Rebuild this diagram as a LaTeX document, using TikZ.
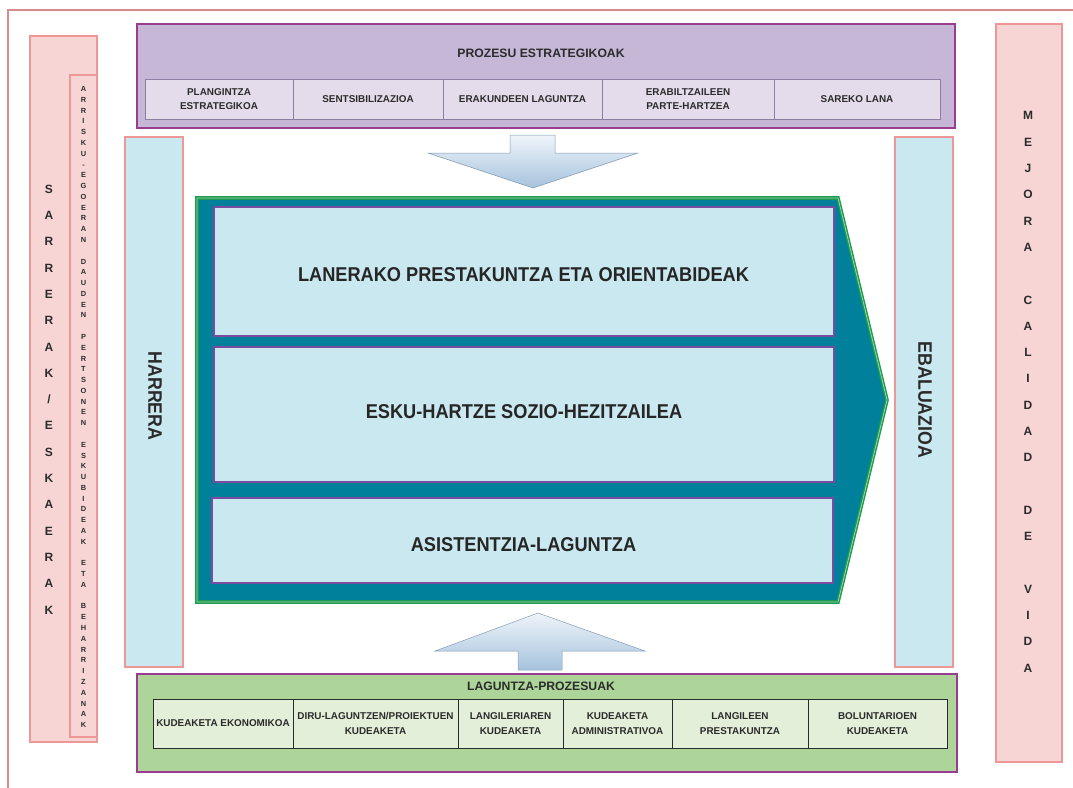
\documentclass[tikz,border=0pt]{standalone}
\usepackage{fontspec}
\setmainfont{Liberation Sans}
\newfontfamily\narrowsans[FakeStretch=0.91]{Liberation Sans}
\usetikzlibrary{positioning}

\definecolor{framerose}{HTML}{D98A8C}
\definecolor{pinkfill}{HTML}{F7D5D5}
\definecolor{pinkline}{HTML}{EF9696}
\definecolor{lilacfill}{HTML}{C6B7D7}
\definecolor{lilacline}{HTML}{9A3C92}
\definecolor{lilaccell}{HTML}{E4DCEB}
\definecolor{lilaccellline}{HTML}{8D7EA3}
\definecolor{paleblue}{HTML}{CAE8EF}
\definecolor{chevteal}{HTML}{00809A}
\definecolor{chevgreen}{HTML}{1F9B4F}
\definecolor{boxpurple}{HTML}{7A4C9F}
\definecolor{leaffill}{HTML}{ADD59A}
\definecolor{leafcell}{HTML}{E3EFD9}
\definecolor{arrowblue}{HTML}{A6C3DD}
\definecolor{arrowlight}{HTML}{EEF4FA}
\definecolor{inkgray}{HTML}{2B2B2B}

\begin{document}
\begin{tikzpicture}[x=1pt, y=-1pt,
  every node/.style={text=inkgray, inner sep=0pt},
  pinkbar/.style={shape=rectangle, draw=pinkline, fill=pinkfill, line width=1.6pt},
  bluebar/.style={shape=rectangle, draw=pinkline, fill=paleblue, line width=1.4pt},
  lilacbox/.style={shape=rectangle, draw=lilacline, fill=lilacfill, line width=1.4pt},
  lilaccellbox/.style={shape=rectangle, draw=lilaccellline, fill=lilaccell, line width=1pt, minimum height=40pt, align=center, font=\bfseries\fontsize{9.9}{14}\selectfont},
  leafbox/.style={shape=rectangle, draw=lilacline, fill=leaffill, line width=1.4pt},
  leafcellbox/.style={shape=rectangle, draw=inkgray, fill=leafcell, line width=1pt, minimum height=49pt, align=center, font=\bfseries\fontsize{9.9}{14.5}\selectfont},
  flowbox/.style={shape=rectangle, draw=boxpurple, fill=paleblue, line width=1.2pt},
  flowtext/.style={text=black!85, font=\narrowsans\bfseries\fontsize{20}{22}\selectfont},
  titletext/.style={font=\bfseries\fontsize{12.2}{14}\selectfont},
  sidetext/.style={rotate=-90, font=\narrowsans\bfseries\fontsize{19.5}{22}\selectfont},
  lettercol/.style={align=center, font=\bfseries\fontsize{12}{26.3}\selectfont},
  blockarrow/.style={top color=arrowlight, bottom color=arrowblue, draw=arrowblue!80!black, line width=0.5pt}]
\useasboundingbox (0,0) rectangle (1073,787);

\draw[framerose, line width=2.2pt] (1090,10) -- (8,10) -- (8,800);

\node[pinkbar, minimum width=67pt, minimum height=706pt] (sarrerabar) at (63.5,389) {};
\node[pinkbar, minimum width=27pt, minimum height=662pt] (arriskubar) at (83.5,406) {};
\node[pinkbar, minimum width=66pt, minimum height=738pt] (mejorabar) at (1029,393) {};
\node[lettercol] (sarrerak) at (49,399.5) {S\\A\\R\\R\\E\\R\\A\\K\\/\\E\\S\\K\\A\\E\\R\\A\\K};
\node[lettercol, font=\bfseries\fontsize{7.4}{10.78}\selectfont] (arrisku) at (83.5,407) {A\\R\\R\\I\\S\\K\\U\\-\\E\\G\\O\\E\\R\\A\\N\\\mbox{}\\D\\A\\U\\D\\E\\N\\\mbox{}\\P\\E\\R\\T\\S\\O\\N\\E\\N\\\mbox{}\\E\\S\\K\\U\\B\\I\\D\\E\\A\\K\\\mbox{}\\E\\T\\A\\\mbox{}\\B\\E\\H\\A\\R\\R\\I\\Z\\A\\N\\A\\K};
\node[lettercol] (mejora) at (1028,392) {M\\E\\J\\O\\R\\A\\\mbox{}\\C\\A\\L\\I\\D\\A\\D\\\mbox{}\\D\\E\\\mbox{}\\V\\I\\D\\A};

\node[lilacbox, minimum width=818pt, minimum height=104pt] (estrategikoak) at (546,76) {};
\node[titletext] (estrategikoaktitle) at (541,53) {PROZESU ESTRATEGIKOAK};
\foreach \cx/\cw/\ctext [count=\i] in {219/148/{PLANGINTZA\\ESTRATEGIKOA}, 368/150/SENTSIBILIZAZIOA, 522.5/159/{ERAKUNDEEN LAGUNTZA}, 688/172/{ERABILTZAILEEN\\PARTE-HARTZEA}, 857/166/{SAREKO LANA}}{
  \node[lilaccellbox, minimum width=\cw*1pt] (pe\i) at (\cx,99) {\ctext};
}

\node[bluebar, minimum width=58pt, minimum height=530pt] (harrerabar) at (154,402) {};
\node[bluebar, minimum width=58pt, minimum height=530pt] (ebaluazioabar) at (924,402) {};
\node[sidetext] (harrera) at (155,396) {HARRERA};
\node[sidetext] (ebaluazioa) at (925,400) {EBALUAZIOA};

\shade[blockarrow] (510,135) -- (555,135) -- (555,153) -- (638,153) -- (533,188) -- (428,153) -- (510,153) -- cycle;
\shade[blockarrow] (538,613) -- (645,651) -- (562,651) -- (562,670) -- (518,670) -- (518,651) -- (435,651) -- cycle;

\draw[fill=chevteal, draw=chevgreen, line width=1.4pt, double=chevgreen!45!white, double distance=0.8pt] (197,198) -- (838,198) -- (887,400) -- (838,602) -- (197,602) -- cycle;
\node[flowbox, minimum width=620pt, minimum height=129pt] (prestakuntza) at (524,271.5) {};
\node[flowbox, minimum width=620pt, minimum height=135pt] (eskuhartze) at (524,414.5) {};
\node[flowbox, minimum width=621pt, minimum height=85pt] (asistentzia) at (522.5,540.5) {};
\node[flowtext] (prestakuntzatext) at (523.5,275) {LANERAKO PRESTAKUNTZA ETA ORIENTABIDEAK};
\node[flowtext] (eskuhartzetext) at (524,412) {ESKU-HARTZE SOZIO-HEZITZAILEA};
\node[flowtext] (asistentziatext) at (523.5,545) {ASISTENTZIA-LAGUNTZA};

\node[leafbox, minimum width=820pt, minimum height=98pt] (laguntza) at (547,723) {};
\node[titletext] (laguntzatitle) at (541,686) {LAGUNTZA-PROZESUAK};
\foreach \cx/\cw/\ctext [count=\i] in {223/140/{KUDEAKETA EKONOMIKOA}, 375.5/165/{DIRU-LAGUNTZEN/PROIEKTUEN\\KUDEAKETA}, 510.5/105/{LANGILERIAREN\\KUDEAKETA}, 617.5/109/{KUDEAKETA\\ADMINISTRATIVOA}, 740/136/{LANGILEEN\\PRESTAKUNTZA}, 877.5/139/{BOLUNTARIOEN\\KUDEAKETA}}{
  \node[leafcellbox, minimum width=\cw*1pt] (lp\i) at (\cx,723.5) {\ctext};
}
\end{tikzpicture}
\end{document}
